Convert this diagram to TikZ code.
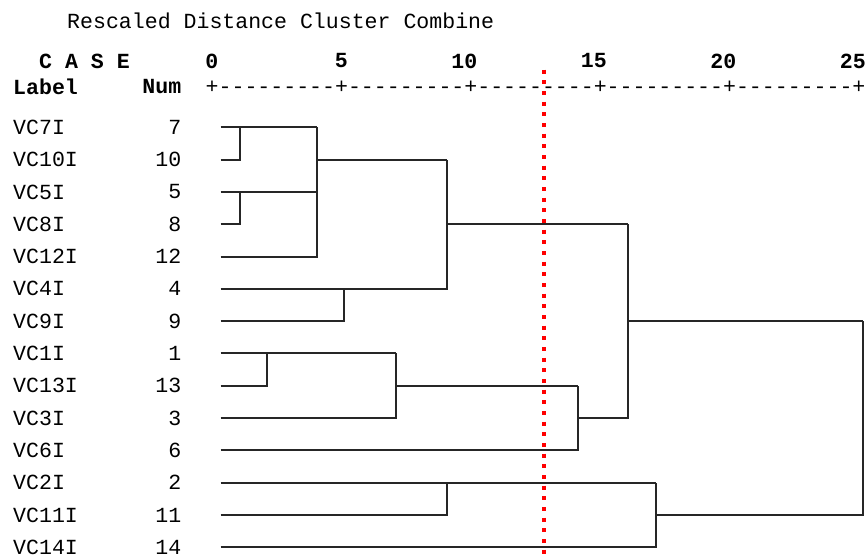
\documentclass[tikz,border=0pt]{standalone}
\usepackage{fontspec}
\newfontfamily\spssfont{Liberation Mono}[Ligatures=TeXOff]

\begin{document}
\begin{tikzpicture}[x=0.03cm, y=-0.03cm,
	font=\spssfont\fontsize{18.4}{20}\selectfont,
	every node/.style={inner sep=0pt},
	caselabel/.style={anchor=west},
	casenum/.style={anchor=east},
	boldtext/.style={font=\spssfont\bfseries\fontsize{18.4}{20}\selectfont},
	link/.style={draw=black!85, line width=0.06cm},
	cutline/.style={draw=red, line width=0.135cm, dash pattern=on 0.12cm off 0.2cm}]
			%%%%% START %%%%%
			
			\useasboundingbox (0,0) rectangle (868,555);
			
			\node[anchor=west] (title) at (67,21) {Rescaled Distance Cluster Combine};
			\node[boldtext, anchor=west] (casehead) at (39,61) {C A S E};
			\node[boldtext, anchor=west] (labelhead) at (13,87) {Label};
			\node[boldtext, anchor=east] (numhead) at (181.5,87) {Num};
			\node[anchor=west] (axis) at (205.5,87) {+---------+---------+---------+---------+---------+};
			\foreach \d in {0,5,...,25}
				\node[boldtext, anchor=east] (tick\d) at (218.5+25.9*\d,61) {\d};
			
			\foreach \n [count=\i from 0] in {7,10,5,8,12,4,9,1,13,3,6,2,11,14} {
				\node[caselabel] (lab\n) at (13,127.3+32.3*\i) {VC\n I};
				\node[casenum] (num\n) at (181.5,127.3+32.3*\i) {\n};
				\coordinate (vc\n) at (220.7,127.3+32.3*\i);
			}
			
			\coordinate (a) at (vc7 -| 240,0);
			\coordinate (b) at (vc5 -| 240,0);
			\coordinate (ctop) at (vc7 -| 317.3,0);
			\coordinate (c) at (vc10 -| 317.3,0);
			\coordinate (d) at (vc4 -| 344.3,0);
			\coordinate (etop) at (vc10 -| 447.3,0);
			\coordinate (e) at (vc8 -| 447.3,0);
			\coordinate (f) at (vc1 -| 267,0);
			\coordinate (gtop) at (vc1 -| 396,0);
			\coordinate (g) at (vc13 -| 396,0);
			\coordinate (htop) at (vc13 -| 577.7,0);
			\coordinate (h) at (vc3 -| 577.7,0);
			\coordinate (itop) at (vc8 -| 628.3,0);
			\coordinate (i) at (vc9 -| 628.3,0);
			\coordinate (k) at (vc2 -| 447,0);
			\coordinate (mtop) at (vc2 -| 655.7,0);
			\coordinate (m) at (vc11 -| 655.7,0);
			\coordinate (ntop) at (vc9 -| 862.7,0);
			
			\draw[link] (vc7) -- (ctop);
			\draw[link] (vc10) -| (a);
			\draw[link] (vc5) -- (vc5 -| ctop);
			\draw[link] (vc8) -| (b);
			\draw[link] (vc12) -| (ctop);
			\draw[link] (c) -- (etop);
			\draw[link] (vc9) -| (d);
			\draw[link] (vc4) -| (etop);
			\draw[link] (e) -- (itop);
			
			\draw[link] (vc1) -- (gtop);
			\draw[link] (vc13) -| (f);
			\draw[link] (vc3) -| (gtop);
			\draw[link] (g) -- (htop);
			\draw[link] (vc6) -| (htop);
			\draw[link] (h) -| (itop);
			\draw[link] (i) -- (ntop);
			
			\draw[link] (vc2) -- (mtop);
			\draw[link] (vc11) -| (k);
			\draw[link] (vc14) -| (mtop);
			\draw[link] (m) -| (ntop);
			
			\coordinate (cuttop) at (544,69.7);
			\coordinate (cutbot) at (544,555);
			\draw[cutline] (cuttop) -- (cutbot);
			
			%%%%% END %%%%%
\end{tikzpicture}
\end{document}
